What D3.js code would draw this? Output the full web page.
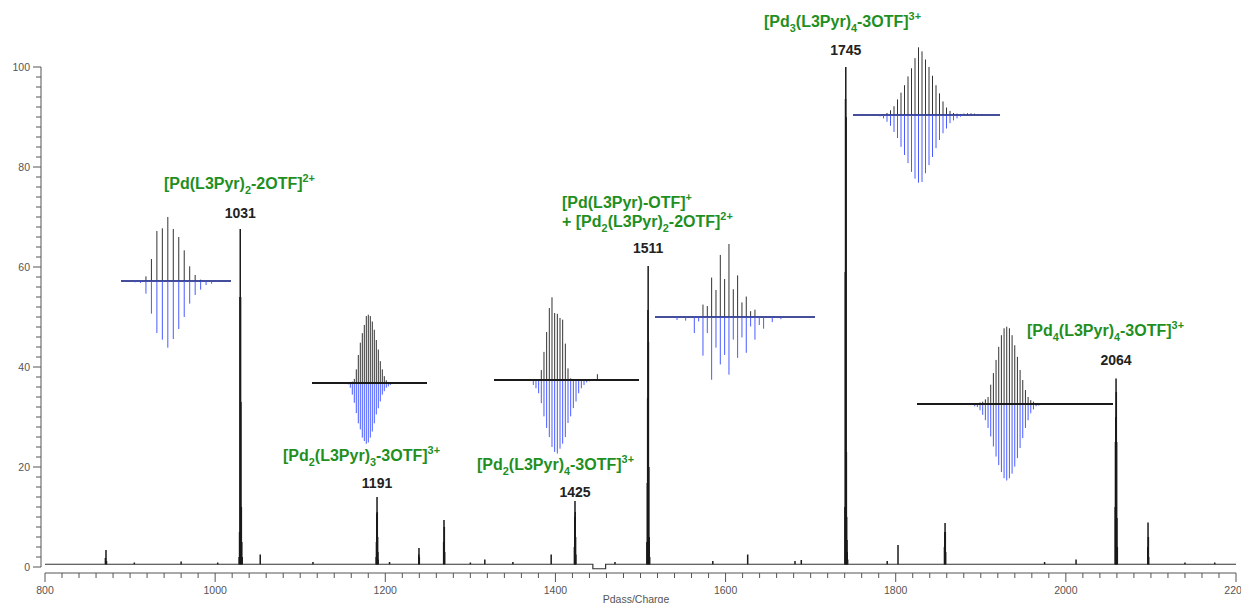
<!DOCTYPE html>
<html><head><meta charset="utf-8">
<script src="https://cdn.jsdelivr.net/npm/d3@7"></script>
<style>body{margin:0;background:#fff}svg{display:block}</style>
</head><body><svg id="c" width="1241" height="603"></svg>
<script>
// ---------- data ----------
const xTicks = [800, 1000, 1200, 1400, 1600, 1800, 2000, 2200];
const yTicks = [0, 20, 40, 60, 80, 100];
const xTitle = "Pdass/Charge";

// main spectrum sticks (m/z, relative intensity)
const specMz = [871.0, 871.7, 872.3,
  1028.2, 1028.7, 1029.2, 1029.5, 1029.9, 1030.3, 1030.8, 1031.3, 1031.8,
  1053,
  1189.3, 1189.6, 1190.0, 1190.3, 1190.6, 1191.0, 1191.3, 1191.6,
  1239.3, 1239.6, 1240.0,
  1268.6, 1269.0, 1269.4, 1269.8,
  1317, 1395,
  1422.3, 1422.7, 1423.0, 1423.3, 1423.7, 1424.0,
  1507.5, 1508.0, 1508.4, 1508.8, 1509.0, 1509.3, 1509.8, 1510.3, 1510.8,
  1626, 1681.6,
  1740.3, 1740.7, 1741.0, 1741.3, 1741.7, 1742.0, 1742.3, 1742.7, 1743.0, 1743.5,
  1802.7,
  1857.3, 1857.7, 1858.0, 1858.3, 1858.7,
  2012,
  2058.0, 2058.3, 2058.7, 2059.0, 2059.3, 2059.7, 2060.0, 2060.5,
  2096.3, 2096.6, 2097.0, 2097.3,
  905, 960, 1003, 1115, 1205, 1300, 1350, 1470, 1585, 1689, 1790, 1975, 2140, 2175];
const specInt = [1.8, 3.4, 1.2,
  2, 7, 54, 67.6, 54, 33, 12, 5, 2,
  2.5,
  2, 5, 10.7, 14, 11, 6, 3, 1.5,
  2.5, 3.8, 2,
  5, 9.4, 8, 3,
  1.5, 2.5,
  4, 10, 13.2, 11, 6, 2.5,
  5, 16.8, 33.8, 51.4, 60.2, 45, 20, 6, 2,
  2.5, 1.2,
  12, 59, 93.6, 100, 90, 23, 10, 5.4, 3, 1.5,
  4.4,
  4, 7, 8.8, 7, 3,
  1.5,
  12, 25, 30, 37.7, 35, 25, 9.8, 4,
  4, 8.9, 6, 2,
  0.9, 1.1, 0.9, 1.0, 1.0, 0.9, 1.0, 1.0, 1.2, 1.4, 1.2, 1.0, 0.9, 0.9];
// baseline level (m/z, intensity)
const baseMz  = [800, 1444, 1444, 1459, 1459, 2200];
const baseInt = [0.55, 0.55, -0.35, -0.35, 0.55, 0.55];

// peak annotations
const peakLabels = ["1031", "1191", "1425", "1511", "1745", "2064"];
const peakLabelMz = [1029.5, 1190.3, 1423.0, 1509.0, 1741.3, 2059.0];
const formulaLines = [
  ["[Pd(L3Pyr)_{2}-2OTF]^{2+}"],
  ["[Pd_{2}(L3Pyr)_{3}-3OTF]^{3+}"],
  ["[Pd_{2}(L3Pyr)_{4}-3OTF]^{3+}"],
  ["[Pd(L3Pyr)-OTF]^{+}", "+ [Pd_{2}(L3Pyr)_{2}-2OTF]^{2+}"],
  ["[Pd_{3}(L3Pyr)_{4}-3OTF]^{3+}"],
  ["[Pd_{4}(L3Pyr)_{4}-3OTF]^{3+}"]
];

// isotope pattern insets: experimental (up) and simulated (down), % of inset max
const expA = [0,0,7,33,75,79,96,78,66,46,22,9,2,0,0,0];
const simA = [2,3,19,49,78,88,100,87,72,54,34,21,13,6,4,1.5];
const expB = [0,0,2,6,20,41,59,73,85,98,100,98,90,78,63,49,32,20,10,4,1.5,0,0,0];
const simB = [2,7,17,29,44,59,68,80,85,89,87,80,71,59,46,37,27,17,12,7,5,3,1.5,1];
const expC = [0,0,0,12,34,58,87,100,81,80,75,73,44,14,2,0,0,0,0,0,0,0,0,0,7];
const simC = [6,10,16,28,44,58,69,81,87,89,83,77,69,52,44,34,26,16,10,6,3,1.6,0,0,0];
const expD = [0,0,0,0,0,0,17,15,54,37,85,52,100,38,57,20,28,8,10,0,0,0,0,0,0];
const simD = [4,0,5,0,22,6,53,22,86,42,65,52,79,31,56,28,49,13,31,11,16,0,7,0,3];
const expE = [0,1,3,7,13,23,33,44,57,69,84,100,94,82,71,58,44,32,20,11,6,3,2,1.5,2,2.5,2.5,2,1.5,1,0.5];
const simE = [2,5,10,16,25,34,47,59,71,84,94,100,99,86,74,62,49,37,27,20,12,8,5,2.5,1.5,0,0,0,0,0,0];
const expF = [0,0,2,3,6,9,25,40,57,74,89,98,100,98,89,76,61,44,31,18,9,5,3,1.3,0,0];
const simF = [3,4,8,14,21,31,42,55,68,79,88,96,99,96,90,81,70,57,44,31,21,12,7,3,2,1];

// ---------- layout ----------
const plot = {x0: 45, x1: 1236, y0: 567, y1: 67, yAxisX: 41, xAxisY: 573};
const green = "#1f8f1f";
const insetLayout = [
  {exp: expA, sim: simA, first: 135,   step: 5.47, baseY: 281, from: 121, to: 231, h: 66.7, blueOnTop: true},
  {exp: expB, sim: simB, first: 348.3, step: 2.0,  baseY: 383, from: 312, to: 427, h: 68.3, blueOnTop: false},
  {exp: expC, sim: simC, first: 533.3, step: 2.67, baseY: 380, from: 494, to: 639, h: 82.7, blueOnTop: false},
  {exp: expD, sim: simD, first: 677,   step: 4.33, baseY: 317, from: 655, to: 815, h: 73,   blueOnTop: true},
  {exp: expE, sim: simE, first: 880,   step: 3.5,  baseY: 115, from: 853, to: 1000, h: 67.7, blueOnTop: true},
  {exp: expF, sim: simF, first: 974.7, step: 2.67, baseY: 404, from: 917, to: 1113, h: 77.3, blueOnTop: false}
];
const formulaPos = [
  {x: 164, y: 189}, {x: 283, y: 461}, {x: 477, y: 470},
  {x: 562, y: 208}, {x: 764, y: 27}, {x: 1027, y: 336}
];
const numberY = [218, 488, 497, 253, 55, 365];

// ---------- drawing ----------
const svg = d3.select("#c");
const font = "'Liberation Sans', Arial, sans-serif";
const x = d3.scaleLinear().domain([800, 2200]).range([plot.x0, plot.x1]);
const y = d3.scaleLinear().domain([0, 100]).range([plot.y0, plot.y1]);

// Y axis
const yMinor = d3.range(0, 101, 2);
const yAx = svg.append("g").attr("transform", `translate(${plot.yAxisX},0)`);
yAx.append("line").attr("y1", y(0)).attr("y2", y(100)).attr("stroke", "#555");
yAx.selectAll("line.mn").data(yMinor).join("line").attr("class", "mn")
  .attr("x1", d => yTicks.includes(d) ? -8 : -5).attr("x2", 0)
  .attr("y1", d => y(d)).attr("y2", d => y(d)).attr("stroke", "#555");
yAx.selectAll("text").data(yTicks).join("text")
  .attr("x", -11).attr("y", d => y(d)).attr("dy", "0.35em")
  .attr("text-anchor", "end").attr("font-family", font).attr("font-size", 10.5)
  .attr("fill", "#555").text(d => d);

// X axis
const xMinor = d3.range(800, 2201, 20);
const xAx = svg.append("g").attr("transform", `translate(0,${plot.xAxisY})`);
xAx.append("line").attr("x1", x(800)).attr("x2", x(2200)).attr("stroke", "#555");
xAx.selectAll("line.mn").data(xMinor).join("line").attr("class", "mn")
  .attr("x1", d => x(d)).attr("x2", d => x(d))
  .attr("y1", 0).attr("y2", d => xTicks.includes(d) ? 9 : 5).attr("stroke", "#555");
xAx.selectAll("text").data(xTicks).join("text")
  .attr("x", d => x(d)).attr("y", 21)
  .attr("text-anchor", "middle").attr("font-family", font).attr("font-size", 10.5)
  .attr("fill", "#555").text(d => d);
svg.append("text").attr("x", 636).attr("y", 603).attr("text-anchor", "middle")
  .attr("font-family", font).attr("font-size", 10.5).attr("fill", "#555").text(xTitle);

// baseline & sticks
const baseLine = d3.line().x((d, i) => x(baseMz[i])).y((d, i) => y(baseInt[i]));
svg.append("path").attr("d", baseLine(baseMz)).attr("fill", "none").attr("stroke", "#333").attr("stroke-width", 1.2);
svg.append("g").selectAll("line").data(specMz).join("line")
  .attr("x1", d => x(d)).attr("x2", d => x(d))
  .attr("y1", y(0.55)).attr("y2", (d, i) => y(specInt[i]))
  .attr("stroke", "#1a1a1a").attr("stroke-width", 1.5);

// insets
insetLayout.forEach(L => {
  const g = svg.append("g");
  const hs = d3.scaleLinear().domain([0, 100]).range([0, L.h]);
  const xs = i => L.first + i * L.step;
  const drawBase = (col, w) => g.append("line").attr("x1", L.from).attr("x2", L.to)
    .attr("y1", L.baseY).attr("y2", L.baseY).attr("stroke", col).attr("stroke-width", w);
  if (L.blueOnTop) drawBase("#222", 1.4);
  g.selectAll("line.sim").data(L.sim).join("line").attr("class", "sim")
    .attr("x1", (d, i) => xs(i)).attr("x2", (d, i) => xs(i))
    .attr("y1", L.baseY).attr("y2", d => L.baseY + hs(d))
    .attr("stroke", "#4a5cff").attr("stroke-width", 1);
  g.selectAll("line.exp").data(L.exp).join("line").attr("class", "exp")
    .attr("x1", (d, i) => xs(i)).attr("x2", (d, i) => xs(i))
    .attr("y1", L.baseY).attr("y2", d => L.baseY - hs(d))
    .attr("stroke", "#333").attr("stroke-width", 1);
  if (L.blueOnTop) drawBase("#3344dd", 1);
  else { drawBase("#4a5cff", 1); drawBase("#1a1a1a", 1.8); }
});

// rich text helper
function rich(sel, x0, y0, str, fs, fill) {
  const t = sel.append("text").attr("x", x0).attr("y", y0)
    .attr("font-family", font).attr("font-weight", "bold").attr("font-size", fs).attr("fill", fill);
  const re = /_\{([^}]*)\}|\^\{([^}]*)\}|([^_^]+)/g;
  let m, shift = 0;
  while ((m = re.exec(str))) {
    let target = 0, txt, size = fs;
    if (m[1] !== undefined) { target = fs * 0.3; txt = m[1]; size = fs * 0.68; }
    else if (m[2] !== undefined) { target = -fs * 0.42; txt = m[2]; size = fs * 0.68; }
    else { txt = m[3]; }
    t.append("tspan").attr("dy", target - shift).attr("font-size", size).text(txt);
    shift = target;
  }
  return t;
}

// annotations
formulaLines.forEach((lines, k) => {
  lines.forEach((s, j) => rich(svg, formulaPos[k].x, formulaPos[k].y + j * 19, s, 16, green));
});
peakLabels.forEach((s, k) => {
  svg.append("text").attr("x", x(peakLabelMz[k])).attr("y", numberY[k])
    .attr("text-anchor", "middle").attr("font-family", font).attr("font-weight", "bold")
    .attr("font-size", 14).attr("fill", "#222").text(s);
});
</script>
</body></html>
